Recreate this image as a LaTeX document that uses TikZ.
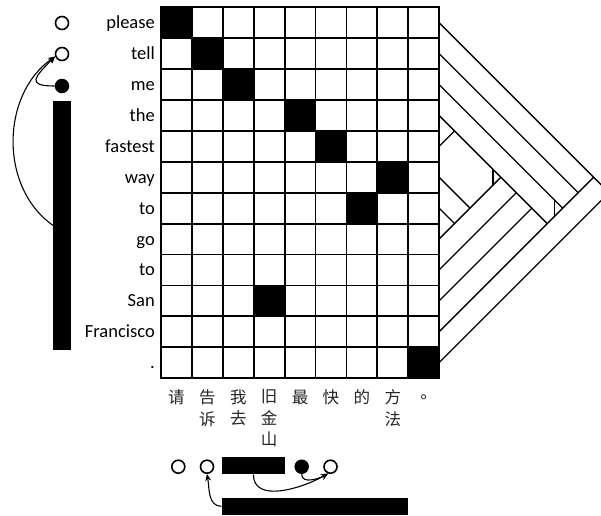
\documentclass[tikz,border=0pt]{standalone}
\usepackage{fontspec}
\setmainfont{Carlito}
\newfontfamily\cjk{Noto Sans CJK SC}
\newfontfamily\cjktc{Noto Sans CJK TC}
\usetikzlibrary{arrows.meta, positioning, calc}

\begin{document}
\begin{tikzpicture}[
    x=1pt, y=1pt,
    word/.style={font=\fontsize{18.5}{22}\selectfont, anchor=base east, inner sep=0pt},
    zh/.style={font=\cjk\fontsize{16.5}{21.5}\selectfont, anchor=north, align=center, inner sep=0pt, text=black!85},
    gridline/.style={line width=1.8pt, line cap=rect},
    branch/.style={line width=1.3pt, line cap=round},
    opencirc/.style={circle, draw, line width=1.6pt, minimum size=13pt, inner sep=0pt},
    fullcirc/.style={circle, fill, minimum size=14.5pt, inner sep=0pt},
    chunk/.style={rectangle, fill, inner sep=0pt},
    arr/.style={->, >={Stealth[length=7pt,width=6pt]}, line width=1.1pt}
]
\useasboundingbox (0,0) rectangle (601,-515);
\fill[white] (0,0) rectangle (601,-515);

% Alignment matrix
\foreach \r/\c in {0/0,1/1,2/2,3/4,4/5,5/7,6/6,9/3,11/8}
  \fill (161+30.9*\c, -7.3-30.9*\r) rectangle ++(30.9,-30.9);
\foreach \i in {0,...,9}
  \draw[gridline] (161+30.9*\i, -7.3) -- ++(0,-370.8);
\foreach \i in {0,...,12}
  \draw[gridline] (161, -7.3-30.9*\i) -- ++(278.1,0);

% English words
\foreach \lab [count=\i from 0] in {please,tell,me,the,fastest,way,to,go,to,San,Francisco,.}
  \node[word] (w\i) at (155, -28.75-30.9*\i) {\lab};

% Chinese words
\foreach \zi [count=\i from 0] in {请,告\\诉,我\\去,旧\\金\\山,最,快,的,方\\法,{\cjktc\vphantom{请}。}}
  \node[zh] (c\i) at (176.45+30.9*\i, -389.5) {\zi};

% Tree over the English words
\foreach \i in {0,...,11}
  \coordinate (l\i) at (439.1, -22.75-30.9*\i);
\coordinate (t34) at (454.55,-130.9);
\coordinate (t67) at (454.55,-223.6);
\coordinate (t57) at (470,-208.15);
\coordinate (t37) at (500.9,-177.25);
\coordinate (t38) at (516.35,-192.7);
\coordinate (t39) at (531.8,-208.15);
\coordinate (t310) at (547.25,-223.6);
\coordinate (t210) at (562.7,-208.15);
\coordinate (t110) at (578.15,-192.7);
\coordinate (t010) at (593.6,-177.25);
\coordinate (root) at (609.05,-192.7);

\draw[branch] (l0) -- (t010) -- (root);
\draw[branch] (l1) -- (t110);
\draw[branch] (l2) -- (t210);
\draw[branch] (l3) -- (t34) -- (t37) -- (t38) -- (t39) -- (t310);
\draw[branch] (l4) -- (t34);
\draw[branch] (l5) -- (t57);
\draw[branch] (l6) -- (t67);
\draw[branch] (l7) -- (t67) -- (t57) -- (t37);
\draw[branch] (l8) -- (t38);
\draw[branch] (l9) -- (t39);
\draw[branch] (l10) -- (t310) -- (t210) -- (t110) -- (t010);
\draw[branch] (l11) -- (root);

% Inverted nodes
\draw[branch] ($(t37)+(-8,8)$) -- ($(t37)+(-8,-8)$);
\draw[branch] ($(t210)+(-8,8)$) -- ($(t210)+(-8,-8)$);

% Stack on the English side
\node[opencirc] (s0) at (62,-23) {};
\node[opencirc] (s1) at (62,-54) {};
\node[fullcirc] (s2) at (62,-86) {};
\node[chunk, minimum width=17.7pt, minimum height=249pt] (s3) at (62.2,-225.5) {};
\draw[arr] (s2.west) to[out=180, in=225, looseness=2.5] (s1.200);
\draw[arr] (s3.west) to[out=145, in=215] (s1.200);

% Stack on the Chinese side
\node[opencirc] (b0) at (178.3,-466.7) {};
\node[opencirc] (b1) at (207,-466.7) {};
\node[chunk, minimum width=63.3pt, minimum height=17pt] (b2) at (253.4,-465.8) {};
\node[fullcirc] (b3) at (301.7,-466.7) {};
\node[opencirc] (b4) at (330.5,-466.7) {};
\node[chunk, minimum width=186.6pt, minimum height=17.5pt] (b5) at (315,-506.3) {};
\draw[arr] (b5.west) to[out=180, in=-80] (b1.south);
\draw[arr] (b2.south) to[out=-90, in=210] (b4.250);
\draw[arr] (b3.south) to[out=-90, in=210] (b4.250);

\end{tikzpicture}
\end{document}
